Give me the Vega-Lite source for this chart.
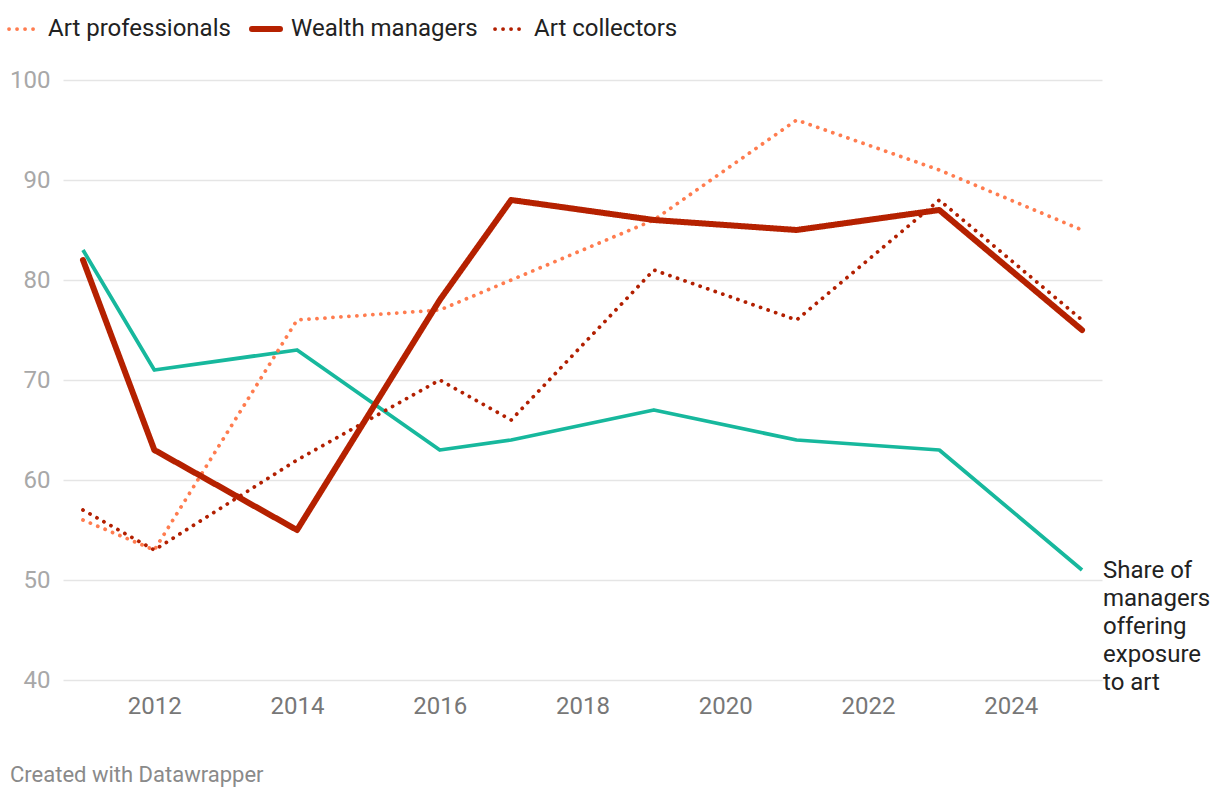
{
  "$schema": "https://vega.github.io/schema/vega-lite/v6.json",
  "width": 1039,
  "height": 600,
  "autosize": "none",
  "padding": {"left": 63, "top": 80, "right": 118, "bottom": 116},
  "background": "white",
  "config": {
    "font": "Roboto",
    "view": {"stroke": null},
    "legend": {
      "orient": "none",
      "legendX": -52,
      "legendY": -63,
      "direction": "horizontal",
      "labelFontSize": 24,
      "labelLimit": 0,
      "labelColor": "#222222",
      "symbolType": "stroke",
      "symbolSize": 784,
      "columnPadding": 9,
      "labelOffset": 13,
      "padding": 0
    }
  },
  "title": {
    "text": "Created with Datawrapper",
    "orient": "bottom",
    "anchor": "start",
    "frame": "group",
    "dx": -53,
    "offset": 47,
    "fontSize": 22,
    "fontWeight": "normal",
    "color": "#8a8a8a"
  },
  "data": {
    "values": [
      {"year": 2011, "series": "Share of managers offering exposure to art", "value": 83},
      {"year": 2012, "series": "Share of managers offering exposure to art", "value": 71},
      {"year": 2014, "series": "Share of managers offering exposure to art", "value": 73},
      {"year": 2016, "series": "Share of managers offering exposure to art", "value": 63},
      {"year": 2017, "series": "Share of managers offering exposure to art", "value": 64},
      {"year": 2019, "series": "Share of managers offering exposure to art", "value": 67},
      {"year": 2021, "series": "Share of managers offering exposure to art", "value": 64},
      {"year": 2023, "series": "Share of managers offering exposure to art", "value": 63},
      {"year": 2025, "series": "Share of managers offering exposure to art", "value": 51},
      {"year": 2011, "series": "Art professionals", "value": 56},
      {"year": 2012, "series": "Art professionals", "value": 53},
      {"year": 2014, "series": "Art professionals", "value": 76},
      {"year": 2016, "series": "Art professionals", "value": 77},
      {"year": 2017, "series": "Art professionals", "value": 80},
      {"year": 2019, "series": "Art professionals", "value": 86},
      {"year": 2021, "series": "Art professionals", "value": 96},
      {"year": 2023, "series": "Art professionals", "value": 91},
      {"year": 2025, "series": "Art professionals", "value": 85},
      {"year": 2011, "series": "Wealth managers", "value": 82},
      {"year": 2012, "series": "Wealth managers", "value": 63},
      {"year": 2014, "series": "Wealth managers", "value": 55},
      {"year": 2016, "series": "Wealth managers", "value": 78},
      {"year": 2017, "series": "Wealth managers", "value": 88},
      {"year": 2019, "series": "Wealth managers", "value": 86},
      {"year": 2021, "series": "Wealth managers", "value": 85},
      {"year": 2023, "series": "Wealth managers", "value": 87},
      {"year": 2025, "series": "Wealth managers", "value": 75},
      {"year": 2011, "series": "Art collectors", "value": 57},
      {"year": 2012, "series": "Art collectors", "value": 53},
      {"year": 2014, "series": "Art collectors", "value": 62},
      {"year": 2016, "series": "Art collectors", "value": 70},
      {"year": 2017, "series": "Art collectors", "value": 66},
      {"year": 2019, "series": "Art collectors", "value": 81},
      {"year": 2021, "series": "Art collectors", "value": 76},
      {"year": 2023, "series": "Art collectors", "value": 88},
      {"year": 2025, "series": "Art collectors", "value": 76}
    ]
  },
  "encoding": {
    "x": {
      "field": "year",
      "type": "quantitative",
      "scale": {"domain": [2010.72, 2025.28], "nice": false, "zero": false},
      "axis": {
        "values": [2012, 2014, 2016, 2018, 2020, 2022, 2024],
        "format": "d",
        "grid": false,
        "domain": false,
        "ticks": false,
        "labelFontSize": 24,
        "labelColor": "#777777",
        "labelPadding": 14,
        "title": null
      }
    },
    "y": {
      "field": "value",
      "type": "quantitative",
      "scale": {"domain": [40, 100], "nice": false, "zero": false},
      "axis": {
        "values": [40, 50, 60, 70, 80, 90, 100],
        "grid": true,
        "gridColor": "#e5e5e5",
        "gridWidth": 1.5,
        "domain": false,
        "ticks": false,
        "labelFontSize": 24,
        "labelColor": "#a8a8a8",
        "labelPadding": 13,
        "title": null
      }
    }
  },
  "layer": [
    {
      "transform": [{"filter": "datum.series === 'Share of managers offering exposure to art'"}],
      "mark": {"type": "line", "color": "#17b89d", "strokeWidth": 3.75, "strokeJoin": "round"}
    },
    {
      "transform": [{"filter": "datum.series !== 'Share of managers offering exposure to art'"}],
      "mark": {"type": "line", "strokeCap": "round", "strokeJoin": "round"},
      "encoding": {
        "color": {
          "field": "series",
          "type": "nominal",
          "scale": {"domain": ["Art professionals", "Wealth managers", "Art collectors"], "range": ["#ff7c4f", "#b52100", "#b21f00"]},
          "legend": {
            "title": null,
            "encode": {"symbols": {"update": {"strokeCap": {"value": "round"}, "strokeWidth": {"signal": "datum.value === 'Wealth managers' ? 6 : 3.75"}}}}
          }
        },
        "strokeDash": {
          "field": "series",
          "type": "nominal",
          "scale": {"domain": ["Art professionals", "Wealth managers", "Art collectors"], "range": [[0.1, 7.9], [1, 0], [0.1, 7.9]]},
          "legend": {"title": null}
        },
        "strokeWidth": {
          "condition": {"test": "datum.series === 'Wealth managers'", "value": 6},
          "value": 3.75
        }
      }
    },
    {
      "transform": [{"filter": "datum.series === 'Share of managers offering exposure to art' && datum.year === 2025"}],
      "mark": {"type": "text", "align": "left", "baseline": "top", "dx": 21, "dy": -11, "fontSize": 24, "lineHeight": 28, "color": "#222222"},
      "encoding": {
        "text": {"value": ["Share of", "managers", "offering", "exposure", "to art"]}
      }
    }
  ]
}
